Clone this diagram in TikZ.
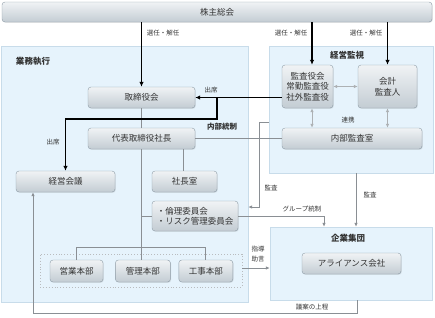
\documentclass[tikz,border=0pt]{standalone}
\usepackage{fontspec}
\setmainfont{Noto Sans CJK JP}
\usepackage{xcolor}
\usepackage{tikz}
\usetikzlibrary{arrows.meta, positioning, shadows}

\definecolor{boxtop}{HTML}{F0F3F5}
\definecolor{boxbot}{HTML}{C3CCD3}
\definecolor{boxline}{HTML}{8E9CA7}
\definecolor{panelfill}{HTML}{E6F3FC}
\definecolor{panelline}{HTML}{C8DCEA}
\definecolor{linegray}{HTML}{8A8F94}
\definecolor{txt}{HTML}{333333}

\begin{document}
\begin{tikzpicture}[
			x=1pt, y=-1pt,
			font=\fontsize{8.5}{10}\selectfont, text=txt,
			unit/.style={rectangle, rounded corners=3pt, align=center, draw=boxline, top color=boxtop, bottom color=boxbot, inner sep=1pt, drop shadow={opacity=0.18, shadow xshift=0.8pt, shadow yshift=-0.8pt}},
			panel/.style={rectangle, draw=panelline, fill=panelfill, inner sep=0pt},
			paneltitle/.style={font=\fontsize{8.5}{10}\selectfont\bfseries},
			lbl/.style={font=\fontsize{6.5}{8}\selectfont, align=center},
			arrow/.style={line width=1.3pt, draw=black, -{Latex[length=5pt, width=4.5pt]}},
			thickline/.style={line width=1.3pt, draw=black},
			gline/.style={line width=0.8pt, draw=linegray},
			garrow/.style={line width=0.8pt, draw=linegray, -{Latex[length=4pt, width=3.5pt]}},
			gboth/.style={line width=0.8pt, draw=linegray!70, {Latex[length=4pt, width=3.5pt]}-{Latex[length=4pt, width=3.5pt]}}
			]
			\useasboundingbox (0,0) rectangle (435,317);
			
			% Bereiche
			\node (gyomu) [panel, minimum width=247pt, minimum height=256pt] at (124.5,174) {};
			\node (kansi) [panel, minimum width=164pt, minimum height=127pt] at (351,109.5) {};
			\node (kigyo) [panel, minimum width=162pt, minimum height=73pt] at (351,263.5) {};
			\node (depts) [rectangle, draw=linegray!60, dotted, line width=0.9pt, minimum width=202pt, minimum height=33pt] at (141,270.5) {};
			\node [paneltitle] at (33,61) {業務執行};
			\node [paneltitle] at (347,55) {経営監視};
			\node [paneltitle] at (348,238) {企業集団};
			
			% Organe
			\node (soukai) [unit, minimum width=430pt, minimum height=20pt] at (217,12) {株主総会};
			\node (torishimari) [unit, minimum width=107pt, minimum height=21pt] at (141.5,97.5) {取締役会};
			\node (shacho) [unit, minimum width=107pt, minimum height=21pt] at (141.5,138.5) {代表取締役社長};
			\node (keieikaigi) [unit, minimum width=99pt, minimum height=21pt] at (65.5,181.5) {経営会議};
			\node (shachoshitsu) [unit, minimum width=65pt, minimum height=21pt] at (184.5,181.5) {社長室};
			\node (iinkai) [unit, minimum width=86pt, minimum height=30pt, align=left] at (195,216) {・倫理委員会\\・リスク管理委員会};
			\node (eigyo) [unit, minimum width=53pt, minimum height=22pt] at (76.5,271) {営業本部};
			\node (kanri) [unit, minimum width=55pt, minimum height=22pt, right=12pt of eigyo] {管理本部};
			\node (koji) [unit, minimum width=54pt, minimum height=22pt, right=8pt of kanri] {工事本部};
			\node (kansayaku) [unit, minimum width=51pt, minimum height=43pt, font=\fontsize{8.5}{10.5}\selectfont] at (307.5,86.5) {監査役会\\常勤監査役\\社外監査役};
			\node (kaikei) [unit, minimum width=59pt, minimum height=43pt, font=\fontsize{8.5}{10.5}\selectfont] at (387.5,86.5) {会計\\監査人};
			\node (naibu) [unit, minimum width=140pt, minimum height=21pt] at (352,138.5) {内部監査室};
			\node (alliance) [unit, minimum width=99pt, minimum height=21pt] at (351.5,263.5) {アライアンス会社};
			
			% Verbindungen (grau)
			\draw [gline] (torishimari.south) -- (shacho.north);
			\draw [gline] (shacho.south) -- (shacho.south |- kanri.north);
			\draw [gline] (eigyo.north) -- ++(0,-12) -| (koji.north);
			\draw [gline] (shacho.south |- iinkai.west) -- (iinkai.west);
			\draw [gline] (shacho.south -| 183,0) -- (shachoshitsu.north -| 183,0);
			\draw [gline] (shacho.east) -- (naibu.west);
			\node [paneltitle, font=\fontsize{7.5}{9}\selectfont\bfseries] at (222,127) {内部統制};
			
			\draw [gboth] (kansayaku.east) -- (kaikei.west);
			\draw [gboth] ([xshift=4.5pt]kansayaku.south) -- ([xshift=4.5pt]kansayaku.south |- naibu.north);
			\draw [gboth] (kaikei.south) -- (kaikei.south |- naibu.north);
			\node [lbl] at (348,120) {連携};
			
			\draw [garrow] (kansi.west |- 0,122) -| (259,207) -- (gyomu.east |- 0,207);
			\node [lbl] at (271,188) {監査};
			\draw [garrow] (iinkai.east) -| (kigyo.north -| 324,0);
			\node [lbl] at (302,209) {グループ統制};
			\draw [garrow] (kansi.south -| 356,0) -- (kigyo.north -| 356,0);
			\node [lbl] at (370,195) {監査};
			\draw [garrow] (depts.east |- 0,268) -- (kigyo.west |- 0,268);
			\node [lbl, font=\fontsize{6.5}{9.5}\selectfont] at (258,254) {指導\\助言};
			\draw [garrow] (kigyo.south -| 357,0) -- ++(0,13) -| (keieikaigi.south -| 33,0);
			\node [lbl] at (312,307) {議案の上程};
			
			% Verbindungen (schwarz)
			\draw [arrow] (soukai.south -| torishimari.north) -- (torishimari.north);
			\node [lbl] at (163,33) {選任・解任};
			\draw [arrow] ([xshift=4.5pt]soukai.south -| kansayaku.north) -- ([xshift=4.5pt]kansayaku.north);
			\node [lbl] at (291,33) {選任・解任};
			\draw [arrow] (soukai.south -| kaikei.north) -- (kaikei.north);
			\node [lbl] at (366,33) {選任・解任};
			
			\draw [arrow] (kansayaku.west |- torishimari.east) -- (torishimari.east);
			\node [lbl] at (211,90) {出席};
			\coordinate (j1) at (217,97.5);
			\draw [thickline] (j1) -- ++(0,21.5) -| ([yshift=4pt]keieikaigi.north);
			\draw [arrow] ([yshift=6pt]keieikaigi.north) -- (keieikaigi.north);
			\node [lbl] at (53,142) {出席};
			
		\end{tikzpicture}
\end{document}
